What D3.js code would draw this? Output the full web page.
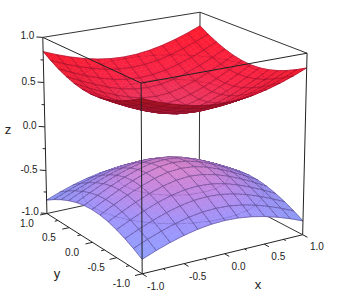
<!DOCTYPE html>
<html><head><meta charset="utf-8">
<script src="https://cdn.jsdelivr.net/npm/d3@7/dist/d3.min.js"></script>
<style>html,body{margin:0;padding:0;background:#fff}svg{display:block}text{font-family:"Liberation Sans",Arial,sans-serif;fill:#222}</style>
</head><body><svg id="c" width="337" height="305"></svg>
<script>
// data: surface height read at x,y = 0, 1/6, ... 1 (one quadrant; the surface is mirrored in x and y)
const gridSteps = [0,1/6,2/6,3/6,4/6,5/6,1];
const upperQuadrant = [
 [.300,.314,.352,.409,.477,.553,.632],
 [.314,.327,.365,.420,.486,.560,.639],
 [.352,.365,.399,.449,.512,.583,.659],
 [.409,.420,.449,.495,.553,.619,.691],
 [.477,.486,.512,.553,.605,.666,.733],
 [.553,.560,.583,.619,.666,.721,.784],
 [.632,.639,.659,.691,.733,.784,.843]];
const contourLevels = [0.45,0.62];
const majorTicks = [-1,-0.5,0,0.5,1];
const minorTicks = [-0.75,-0.25,0.25,0.75];
const tickLabels = ["-1.0","-0.5","0.0","0.5","1.0"];

// camera: fitted to the eight box corners as seen in the picture
const corners = [
 [-1, 1, 1, 43, 37],[-1,-1, 1,141, 84],[ 1,-1, 1,307, 53],[ 1, 1, 1,200, 12],
 [-1, 1,-1, 47,212],[-1,-1,-1,142,275],[ 1,-1,-1,303,233],[ 1, 1,-1,199,182.5]];
function solve(A,b){const n=b.length,M=A.map((r,i)=>[...r,b[i]]);
 for(let i=0;i<n;i++){let p=i;for(let k=i+1;k<n;k++)if(Math.abs(M[k][i])>Math.abs(M[p][i]))p=k;[M[i],M[p]]=[M[p],M[i]];
  for(let k=0;k<n;k++)if(k!==i){const f=M[k][i]/M[i][i];for(let j=i;j<=n;j++)M[k][j]-=f*M[i][j];}}
 return M.map((r,i)=>r[n]/r[i]);}
const rows=[],rhs=[];
corners.forEach(([x,y,z,u,v])=>{
 rows.push([x,y,z,1,0,0,0,0,-u*x,-u*y,-u*z]);rhs.push(u);
 rows.push([0,0,0,0,x,y,z,1,-v*x,-v*y,-v*z]);rhs.push(v);});
const AtA=d3.range(11).map(i=>d3.range(11).map(j=>d3.sum(rows,r=>r[i]*r[j])));
const Atb=d3.range(11).map(i=>d3.sum(rows,(r,k)=>r[i]*rhs[k]));
const P=solve(AtA,Atb);
const depth=(x,y,z)=>P[8]*x+P[9]*y+P[10]*z+1;
const project=(x,y,z)=>{const w=depth(x,y,z);return[(P[0]*x+P[1]*y+P[2]*z+P[3])/w,(P[4]*x+P[5]*y+P[6]*z+P[7])/w];};

const svg=d3.select("#c");
const line=d3.line();
const seg=(g,a,b,col,w)=>g.append("path").attr("d",line([project(...a),project(...b)])).attr("fill","none").attr("stroke",col).attr("stroke-width",w);

const n=gridSteps.length-1;
const axisVals=[...gridSteps.slice(1).reverse().map(d=>-d),...gridSteps];
const idx=i=>Math.abs(i-n);
const height=(i,j)=>upperQuadrant[idx(i)][idx(j)];
const SUB=3;

const boxCol="#333";
const back=svg.append("g");
seg(back,[1,1,1],[1,1,-1],boxCol,1);
seg(back,[-1,1,1],[1,1,1],boxCol,1);
seg(back,[1,1,1],[1,-1,1],boxCol,1);
seg(back,[-1,1,-1],[1,1,-1],boxCol,1);
seg(back,[1,1,-1],[1,-1,-1],boxCol,1);

const redCol=d3.scaleLinear().domain([.3,.5,.843]).range(["#e83a66","#f82446","#ff1a2c"]).interpolate(d3.interpolateRgb);
const blueCol=d3.scaleLinear().domain([.3,.45,.62,.843]).range(["#d884cc","#c088e4","#a094fa","#90a0ff"]).interpolate(d3.interpolateRgb);
const viewDir=[-0.42,-0.52,0.74];

function drawSheet(sign,colour,meshCol,contourCol,underShade,slopeShade){
 const g=svg.append("g");
 const quads=[];
 for(let i=0;i<2*n;i++)for(let j=0;j<2*n;j++){
  const bil=(u,v)=>{
   const h=(1-u)*(1-v)*height(i,j)+u*(1-v)*height(i+1,j)+u*v*height(i+1,j+1)+(1-u)*v*height(i,j+1);
   const x=axisVals[i]+u*(axisVals[i+1]-axisVals[i]),y=axisVals[j]+v*(axisVals[j+1]-axisVals[j]);
   return{h,p:[x,y,sign*h]};};
  for(let a=0;a<SUB;a++)for(let b=0;b<SUB;b++){
   const u0=a/SUB,u1=(a+1)/SUB,v0=b/SUB,v1=(b+1)/SUB;
   const c=[bil(u0,v0),bil(u1,v0),bil(u1,v1),bil(u0,v1)];
   const w=c.map(d=>d.p);
   const edges=[b===0,a===SUB-1,b===SUB-1,a===0];
   quads.push({w,hs:c.map(d=>d.h),edges,mean:d3.mean(w,p=>depth(...p)),h:d3.mean(c,d=>d.h)});
  }
 }
 quads.sort((a,b)=>b.mean-a.mean);
 quads.forEach(q=>{
  const pts=q.w.map(p=>project(...p));
  const under=d3.polygonArea(pts)<0;
  const d1=[0,1,2].map(k=>q.w[2][k]-q.w[0][k]),d2=[0,1,2].map(k=>q.w[3][k]-q.w[1][k]);
  const nrm=[d1[1]*d2[2]-d1[2]*d2[1],d1[2]*d2[0]-d1[0]*d2[2],d1[0]*d2[1]-d1[1]*d2[0]];
  const len=Math.hypot(...nrm);
  const dot=Math.abs(d3.sum(nrm,(v,k)=>v*viewDir[k]))/len;
  let c=d3.color(colour(q.h)).darker(slopeShade*Math.max(0,0.8-dot));
  if(under)c=c.darker(underShade);
  const s=c.formatHex();
  g.append("path").attr("d",line(pts)+"Z").attr("fill",s).attr("stroke",s).attr("stroke-width",.6);
  q.edges.forEach((e,k)=>{if(e)g.append("path").attr("d",line([pts[k],pts[(k+1)%4]])).attr("fill","none").attr("stroke",meshCol).attr("stroke-width",1);});
  contourLevels.forEach(l=>{
   const cross=[];
   for(let k=0;k<4;k++){const a=q.hs[k],b=q.hs[(k+1)%4];
    if((a<l)!==(b<l)){const t=(l-a)/(b-a),A=q.w[k],B=q.w[(k+1)%4];
     cross.push(project(A[0]+t*(B[0]-A[0]),A[1]+t*(B[1]-A[1]),sign*l));}}
   if(cross.length>=2)g.append("path").attr("d",line(cross.slice(0,2))).attr("fill","none").attr("stroke",contourCol).attr("stroke-width",.9);
  });
 });
}
drawSheet(-1,blueCol,"rgba(70,50,110,.5)","rgba(70,50,110,.28)",.5,.9);
drawSheet(1,redCol,"rgba(110,10,40,.42)","rgba(110,10,40,.28)",.8,.9);

const front=svg.append("g");
const edgeCol="#222";
seg(front,[-1,1,1],[-1,-1,1],edgeCol,1);
seg(front,[-1,-1,1],[1,-1,1],edgeCol,1);
seg(front,[-1,-1,1],[-1,-1,-1],edgeCol,1);
seg(front,[-1,1,1],[-1,1,-1],edgeCol,1);
seg(front,[1,-1,1],[1,-1,-1],edgeCol,1);
seg(front,[-1,1,-1],[-1,-1,-1],edgeCol,1);
seg(front,[-1,-1,-1],[1,-1,-1],edgeCol,1);

const txt=(p,s,anchor,size)=>svg.append("text").attr("x",p[0]).attr("y",p[1]).attr("text-anchor",anchor).attr("dominant-baseline","central").attr("font-size",size).text(s);
majorTicks.forEach((t,i)=>{
 seg(front,[t,-1,-1],[t,-1.085,-1],edgeCol,1);
 const px=project(t,-1.2,-1);txt([px[0]+3,px[1]+6],tickLabels[i],"middle",10);
 seg(front,[-1,t,-1],[-1.085,t,-1],edgeCol,1);
 const py=project(-1.15,t,-1);txt([py[0]-8,py[1]+7],tickLabels[i],"middle",10);
 seg(front,[-1,1,t],[-1.05,1.05,t],edgeCol,1);
 const pz=project(-1.05,1.05,t);txt([pz[0]-2,pz[1]-1],tickLabels[i],"end",10);
});
minorTicks.forEach(t=>{
 seg(front,[t,-1,-1],[t,-1.04,-1],edgeCol,1);
 seg(front,[-1,t,-1],[-1.04,t,-1],edgeCol,1);
 seg(front,[-1,1,t],[-1.022,1.022,t],edgeCol,1);
});
const axisLabel=(s,px,py)=>svg.append("text").attr("x",px).attr("y",py).attr("text-anchor","middle").attr("dominant-baseline","central").attr("font-size",13).text(s);
axisLabel("x",258,284);axisLabel("y",57,273);axisLabel("z",8,129);
</script></body></html>
